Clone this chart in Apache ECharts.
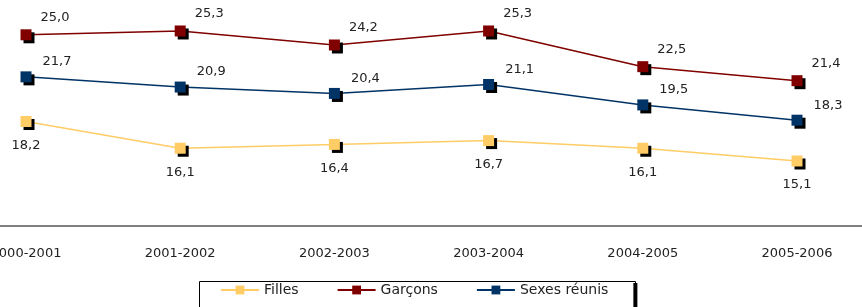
<!DOCTYPE html>
<html>
<head>
<meta charset="utf-8">
<script src="https://cdn.jsdelivr.net/npm/echarts@6/dist/echarts.min.js"></script>
<style>
  html, body { margin: 0; padding: 0; background: #fff; }
  #chart { width: 862px; height: 307px; }
</style>
</head>
<body>
<div id="chart"></div>
<script>
const years = ['2000-2001', '2001-2002', '2002-2003', '2003-2004', '2004-2005', '2005-2006']
const filles = [18.2, 16.1, 16.4, 16.7, 16.1, 15.1]
const garcons = [25.0, 25.3, 24.2, 25.3, 22.5, 21.4]
const sexesReunis = [21.7, 20.9, 20.4, 21.1, 19.5, 18.3]

const font = 'DejaVu Sans'
const fmt = p => p.value.toFixed(1).replace('.', ',')

function makeSeries(name, data, color, labelOffset) {
  return {
    type: 'line',
    name: name,
    data: data,
    symbol: 'rect',
    symbolSize: 11,
    lineStyle: { color: color, width: 1.5 },
    itemStyle: {
      color: color,
      shadowColor: '#000',
      shadowBlur: 0,
      shadowOffsetX: 3,
      shadowOffsetY: 3
    },
    label: {
      show: true,
      position: 'inside',
      offset: labelOffset,
      formatter: fmt,
      color: '#222',
      fontFamily: font,
      fontSize: 13
    }
  }
}

const chart = echarts.init(document.getElementById('chart'))
chart.setOption({
  animation: false,
  grid: [
    { left: 26, right: 65, top: 0, bottom: 81, outerBoundsMode: 'none', containLabel: false },
    { left: 0, right: 0, top: 0, bottom: 81, outerBoundsMode: 'none', containLabel: false }
  ],
  legend: {
    left: 197,
    top: 279,
    padding: [4, 25, 14, 23],
    itemGap: 38,
    itemWidth: 38,
    itemHeight: 11,
    backgroundColor: '#fff',
    borderWidth: 0,
    shadowColor: '#000',
    shadowBlur: 0,
    shadowOffsetX: 4,
    shadowOffsetY: 4,
    textStyle: { color: '#222', fontFamily: font, fontSize: 14 },
    data: ['Filles', 'Garçons', 'Sexes réunis']
  },
  // legend frame (drawn without the shadow)
  graphic: [
    {
      type: 'rect',
      left: 197,
      top: 279,
      shape: { width: 436, height: 40 },
      style: { fill: 'none', stroke: '#000', lineWidth: 1 },
      z: 100
    }
  ],
  xAxis: [
    {
      type: 'category',
      data: years,
      boundaryGap: false,
      axisLine: { show: false },
      axisTick: { show: false },
      axisLabel: { color: '#222', fontFamily: font, fontSize: 13, margin: 21 }
    },
    {
      gridIndex: 1,
      type: 'category',
      data: years,
      axisLine: { lineStyle: { color: '#555', width: 1.5 } },
      axisTick: { show: false },
      axisLabel: { show: false }
    }
  ],
  yAxis: [
    { type: 'value', min: 10, max: 27.73, show: false, splitLine: { show: false } },
    { gridIndex: 1, type: 'value', min: 10, max: 27.73, show: false, splitLine: { show: false } }
  ],
  series: [
    makeSeries('Filles', filles, '#FFCC66', [0, 24]),
    makeSeries('Garçons', garcons, '#800000', [29, -17]),
    makeSeries('Sexes réunis', sexesReunis, '#003366', [31, -15])
  ]
})
</script>
</body>
</html>
